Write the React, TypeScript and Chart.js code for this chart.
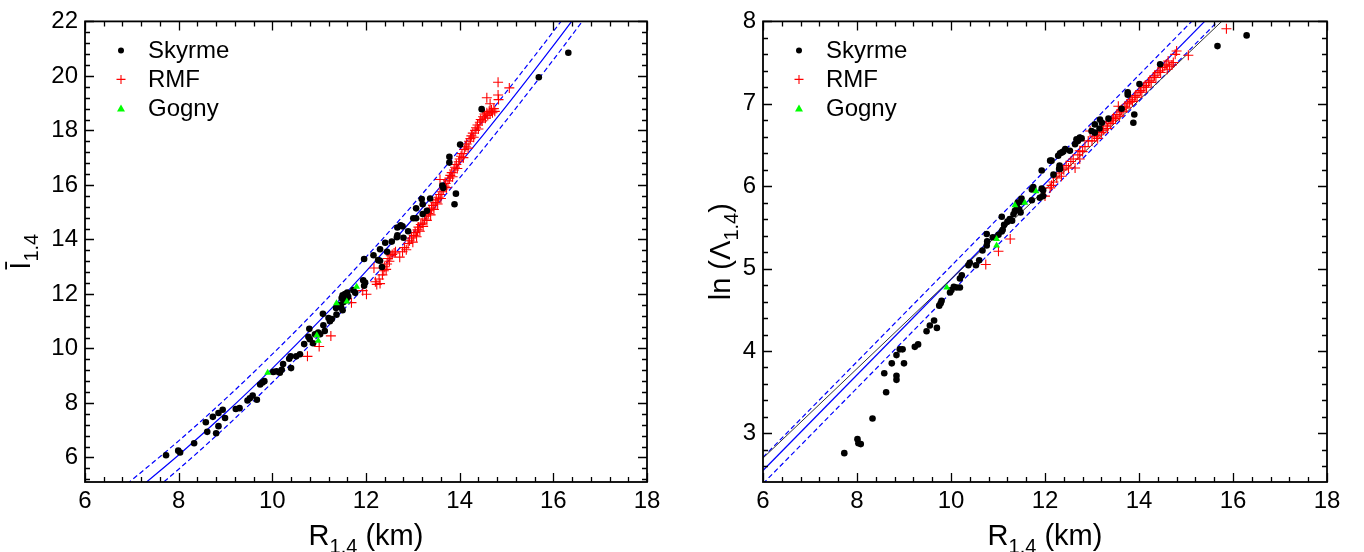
import React, { useEffect, useRef } from "react";
import { Chart, registerables } from "chart.js";
Chart.register(...registerables);

const FONT = "'Liberation Sans', Arial, Helvetica, sans-serif";

// ---------- tick labels ----------
const leftXTicks = [6, 8, 10, 12, 14, 16, 18];
const leftYTicks = [6, 8, 10, 12, 14, 16, 18, 20, 22];
const rightXTicks = [6, 8, 10, 12, 14, 16, 18];
const rightYTicks = [3, 4, 5, 6, 7, 8];

// ---------- left panel: I(1.4) vs R(1.4) ----------
const skyrmeLeftR = [7.73, 7.99, 8.03, 8.33, 8.58, 8.61, 8.73, 8.8, 8.85, 8.85, 8.94, 8.99, 9.22, 9.3, 9.47, 9.52, 9.58, 9.67, 9.74, 9.79, 9.83, 10.02, 10.09, 10.16, 10.2, 10.23, 10.36, 10.39, 10.4, 10.51, 10.59, 10.68, 10.77, 10.79, 10.8, 10.87, 10.91, 10.98, 11.02, 11.08, 11.09, 11.12, 11.2, 11.23, 11.27, 11.36, 11.37, 11.45, 11.48, 11.5, 11.52, 11.55, 11.58, 11.6, 11.62, 11.5, 11.47, 11.73, 11.77, 11.94, 11.96, 11.98, 11.96, 12.16, 12.26, 12.34, 12.3, 12.3, 12.41, 12.45, 12.55, 12.67, 12.66, 12.8, 12.67, 12.74, 12.78, 12.9, 13.01, 13.07, 13.07, 13.21, 13.19, 13.21, 13.3, 13.37, 13.63, 13.65, 13.78, 13.78, 13.92, 13.89, 14.01, 14.47, 15.69, 16.32];
const skyrmeLeftI = [6.08, 6.25, 6.18, 6.52, 7.29, 6.94, 7.49, 6.89, 7.63, 7.15, 7.75, 7.45, 7.78, 7.81, 8.09, 8.17, 8.27, 8.12, 8.68, 8.75, 8.8, 9.14, 9.16, 9.11, 9.22, 9.43, 9.62, 9.71, 9.28, 9.71, 9.79, 10.16, 10.43, 10.72, 10.34, 10.19, 10.52, 10.58, 10.52, 11.27, 10.85, 10.64, 11.12, 11.0, 11.08, 11.48, 11.24, 11.6, 11.85, 11.95, 11.7, 12.0, 11.8, 12.05, 11.9, 11.4, 11.5, 12.14, 12.04, 12.5, 12.3, 12.42, 13.28, 13.42, 13.24, 12.99, 13.64, 13.22, 13.88, 13.55, 13.92, 14.15, 14.08, 14.06, 14.44, 14.52, 14.48, 14.3, 14.78, 14.78, 15.14, 14.93, 15.48, 15.29, 15.05, 15.5, 15.98, 15.89, 17.03, 16.82, 15.68, 15.29, 17.48, 18.78, 19.95, 20.85];

const rmfLeftR = [10.75, 11.0, 11.25, 11.69, 11.93, 12.01, 12.2, 12.23, 12.28, 12.3, 12.17, 12.35, 12.38, 12.4, 12.43, 12.45, 12.47, 12.5, 12.53, 12.56, 12.6, 12.63, 12.72, 12.78, 12.82, 12.86, 12.9, 12.93, 12.97, 13.0, 13.02, 13.05, 13.08, 13.1, 13.12, 13.15, 13.17, 13.2, 13.22, 13.25, 13.28, 13.3, 13.33, 13.35, 13.38, 13.4, 13.43, 13.45, 13.48, 13.5, 13.53, 13.55, 13.58, 13.6, 13.62, 13.65, 13.68, 13.7, 13.72, 13.75, 13.78, 13.8, 13.83, 13.85, 13.88, 13.9, 13.93, 13.95, 13.98, 14.0, 14.03, 14.05, 14.08, 14.1, 14.13, 14.15, 14.18, 14.2, 14.23, 14.25, 14.28, 14.3, 14.33, 14.35, 14.38, 14.4, 14.43, 14.45, 14.48, 14.5, 14.53, 14.55, 14.58, 14.6, 14.63, 14.65, 14.68, 14.7, 14.73, 14.75, 13.58, 14.58, 14.65, 14.83, 14.82, 14.82, 15.06];
const rmfLeftI = [9.71, 10.07, 10.46, 11.68, 12.12, 11.99, 12.45, 12.35, 12.55, 12.38, 12.95, 12.7, 12.85, 13.0, 12.9, 13.1, 13.3, 13.2, 13.4, 13.45, 13.5, 13.55, 13.35, 13.55, 13.7, 13.62, 13.85, 13.95, 14.05, 13.9, 14.15, 14.25, 14.1, 14.35, 14.45, 14.3, 14.55, 14.6, 14.48, 14.75, 14.85, 14.7, 14.95, 15.05, 14.9, 15.15, 15.25, 15.1, 15.35, 15.45, 15.3, 15.55, 15.65, 15.5, 15.75, 15.85, 15.95, 16.05, 15.9, 16.15, 16.25, 16.35, 16.45, 16.3, 16.55, 16.65, 16.75, 16.6, 16.85, 16.95, 17.05, 17.15, 17.0, 17.3, 17.4, 17.5, 17.35, 17.6, 17.7, 17.8, 17.9, 17.75, 18.0, 18.1, 18.2, 18.05, 18.3, 18.4, 18.35, 18.5, 18.6, 18.45, 18.65, 18.55, 18.7, 18.6, 18.75, 18.65, 18.8, 18.7, 16.2, 19.2, 18.98, 19.13, 19.3, 19.77, 19.56];

const gognyLeftR = [9.9, 10.95, 10.98, 11.37, 11.59, 11.8];
const gognyLeftI = [9.11, 10.48, 10.28, 11.66, 11.72, 12.26];

// fit curve and its band
const fitLeftR = [6.9, 8, 9, 10, 11, 12, 13, 14, 15, 16, 16.6];
const fitLeftI = [4.51, 6.09, 7.63, 9.27, 11.0, 12.83, 14.75, 16.78, 18.9, 21.11, 22.48];
const bandUpLeftI = [5.03, 6.61, 8.15, 9.79, 11.52, 13.35, 15.27, 17.3, 19.42, 21.63, 23.0];
const bandLoLeftI = [3.99, 5.57, 7.11, 8.75, 10.48, 12.31, 14.23, 16.26, 18.38, 20.59, 21.96];

// ---------- right panel: ln(Lambda 1.4) vs R(1.4) ----------
const skyrmeRightR = [7.73, 8.01, 8.03, 8.08, 8.33, 8.58, 8.62, 8.74, 8.84, 8.84, 8.84, 8.91, 8.97, 9.0, 9.23, 9.3, 9.48, 9.55, 9.64, 9.7, 9.75, 9.78, 9.8, 9.98, 10.01, 10.06, 10.12, 10.19, 10.19, 10.23, 10.37, 10.4, 10.53, 10.6, 10.67, 10.76, 10.77, 10.76, 10.89, 11.01, 11.08, 11.1, 11.13, 11.08, 11.2, 11.25, 11.3, 11.33, 11.36, 11.4, 11.42, 11.45, 11.48, 11.5, 11.5, 11.72, 11.75, 11.72, 11.93, 11.96, 11.96, 11.89, 11.93, 12.11, 12.14, 12.18, 12.28, 12.36, 12.43, 12.53, 12.31, 12.32, 12.3, 12.32, 12.39, 12.64, 12.67, 12.74, 12.7, 12.78, 12.99, 13.06, 13.06, 13.16, 13.17, 13.21, 13.35, 13.63, 13.76, 13.76, 13.88, 13.9, 14.01, 14.45, 15.67, 16.29];
const skyrmeRightL = [2.76, 2.93, 2.88, 2.87, 3.18, 3.73, 3.5, 3.85, 3.95, 3.7, 3.65, 4.02, 4.02, 3.85, 4.05, 4.08, 4.24, 4.31, 4.37, 4.28, 4.55, 4.58, 4.61, 4.71, 4.74, 4.78, 4.77, 4.77, 4.88, 4.92, 5.04, 5.07, 5.04, 5.1, 5.22, 5.28, 5.33, 5.42, 5.38, 5.41, 5.45, 5.47, 5.53, 5.63, 5.57, 5.6, 5.58, 5.66, 5.7, 5.75, 5.8, 5.72, 5.68, 5.85, 5.81, 5.83, 5.99, 5.96, 5.97, 5.95, 5.88, 5.86, 6.19, 6.31, 6.31, 6.14, 6.37, 6.41, 6.45, 6.43, 6.25, 6.21, 6.21, 6.4, 6.42, 6.51, 6.57, 6.59, 6.55, 6.58, 6.67, 6.65, 6.75, 6.7, 6.81, 6.77, 6.82, 6.94, 7.14, 7.11, 6.77, 6.87, 7.24, 7.48, 7.7, 7.83];

const rmfRightR = [10.74, 11.01, 11.26, 12.0, 12.11, 12.14, 12.18, 12.25, 12.3, 12.35, 12.4, 12.45, 12.5, 12.55, 12.6, 12.64, 12.7, 12.74, 12.74, 12.8, 12.85, 12.92, 12.96, 13.0, 13.05, 13.1, 13.12, 13.15, 13.2, 13.22, 13.25, 13.3, 13.33, 13.36, 13.4, 13.43, 13.46, 13.5, 13.53, 13.56, 13.58, 13.6, 13.63, 13.66, 13.7, 13.73, 13.76, 13.8, 13.83, 13.86, 13.9, 13.93, 13.96, 14.0, 14.03, 14.06, 14.1, 14.13, 14.16, 14.2, 14.23, 14.26, 14.3, 14.33, 14.36, 14.4, 14.43, 14.46, 14.5, 14.55, 14.58, 14.62, 14.6, 14.65, 14.7, 14.73, 14.77, 14.8, 15.05, 15.86];
const rmfRightL = [5.05, 5.21, 5.36, 5.88, 5.98, 6.01, 6.05, 6.1, 6.16, 6.12, 6.2, 6.25, 6.22, 6.3, 6.33, 6.22, 6.38, 6.33, 6.43, 6.42, 6.48, 6.55, 6.67, 6.55, 6.6, 6.62, 6.58, 6.66, 6.65, 6.7, 6.68, 6.73, 6.7, 6.78, 6.76, 6.8, 6.83, 6.82, 6.87, 6.97, 6.85, 6.9, 6.93, 6.91, 6.97, 6.95, 7.0, 7.02, 7.05, 7.03, 7.08, 7.1, 7.08, 7.14, 7.16, 7.14, 7.2, 7.22, 7.2, 7.26, 7.28, 7.26, 7.32, 7.34, 7.32, 7.38, 7.4, 7.38, 7.44, 7.46, 7.48, 7.52, 7.42, 7.45, 7.47, 7.5, 7.6, 7.64, 7.59, 7.91];

const gognyRightR = [9.91, 10.97, 10.97, 11.36, 11.57, 11.81];
const gognyRightL = [4.77, 5.36, 5.28, 5.77, 5.8, 5.94];

const fitRightR = [6, 16];
const fitRightL = [2.55, 8.35];
const bandUpRightL = [2.71, 8.51];
const bandLoRightL = [2.39, 8.19];
const blackRightR = [6, 16];
const blackRightL = [2.7, 8.13];

// ---------- helpers ----------
const pairs = (xs: number[], ys: number[]) => xs.map((x, i) => ({ x, y: ys[i] }));

const skyrmeDs = (xs: number[], ys: number[]) => ({
  label: "Skyrme",
  data: pairs(xs, ys),
  pointStyle: "circle",
  pointRadius: 3.3,
  backgroundColor: "#000",
  borderColor: "#000",
  borderWidth: 0,
  order: 1,
});
const rmfDs = (xs: number[], ys: number[]) => ({
  label: "RMF",
  data: pairs(xs, ys),
  pointStyle: "cross",
  pointRadius: 5,
  backgroundColor: "#ff0000",
  borderColor: "#ff0000",
  borderWidth: 1.1,
  order: 2,
});
const gognyDs = (xs: number[], ys: number[]) => ({
  label: "Gogny",
  data: pairs(xs, ys),
  pointStyle: "triangle",
  pointRadius: 4,
  backgroundColor: "#00ff00",
  borderColor: "#00ff00",
  borderWidth: 0,
  order: 0,
});
const lineDs = (label: string, xs: number[], ys: number[], color: string, dash: number[], width = 1.2) => ({
  label,
  data: pairs(xs, ys),
  showLine: true,
  pointRadius: 0,
  pointHoverRadius: 0,
  borderColor: color,
  backgroundColor: color,
  borderWidth: width,
  borderDash: dash,
  cubicInterpolationMode: "monotone",
  fill: false,
  clip: 0,
  order: 3,
  isFit: true,
});

// frame + inward ticks on all four sides
const framePlugin = {
  id: "frameTicks",
  afterDraw(chart: any, _a: any, opts: any) {
    const { ctx, chartArea: a } = chart;
    const xs = chart.scales.x;
    const ys = chart.scales.y;
    ctx.save();
    ctx.strokeStyle = "#000";
    ctx.lineWidth = 1.3;
    ctx.beginPath();
    const near = (v: number, arr: number[]) => arr.some((m) => Math.abs(m - v) < 1e-6);
    const xTick = (v: number, len: number) => {
      const p = Math.round(xs.getPixelForValue(v)) + 0.5;
      ctx.moveTo(p, a.bottom);
      ctx.lineTo(p, a.bottom - len);
      ctx.moveTo(p, a.top);
      ctx.lineTo(p, a.top + len);
    };
    const yTick = (v: number, len: number) => {
      const p = Math.round(ys.getPixelForValue(v)) + 0.5;
      ctx.moveTo(a.left, p);
      ctx.lineTo(a.left + len, p);
      ctx.moveTo(a.right, p);
      ctx.lineTo(a.right - len, p);
    };
    opts.xMajor.forEach((v: number) => xTick(v, 9));
    opts.yMajor.forEach((v: number) => yTick(v, 9));
    for (let i = Math.ceil(xs.min / opts.xMinor - 1e-9); i * opts.xMinor <= xs.max + 1e-9; i++) {
      const v = +(i * opts.xMinor).toFixed(6);
      if (!near(v, opts.xMajor)) xTick(v, 5);
    }
    for (let i = Math.ceil(ys.min / opts.yMinor - 1e-9); i * opts.yMinor <= ys.max + 1e-9; i++) {
      const v = +(i * opts.yMinor).toFixed(6);
      if (!near(v, opts.yMajor) && v > ys.min + 0.05) yTick(v, 5);
    }
    ctx.stroke();
    ctx.lineWidth = 1.8;
    ctx.strokeRect(a.left, a.top, a.right - a.left, a.bottom - a.top);
    ctx.restore();
  },
};

type Part = { t: string; sub?: boolean };
const drawRich = (ctx: any, parts: Part[], size: number, subSize: number, subShift: number, x: number, y: number) => {
  let w = 0;
  parts.forEach((p) => {
    ctx.font = `${p.sub ? subSize : size}px ${FONT}`;
    w += ctx.measureText(p.t).width;
  });
  let cx = x - w / 2;
  parts.forEach((p) => {
    ctx.font = `${p.sub ? subSize : size}px ${FONT}`;
    ctx.fillText(p.t, cx, y + (p.sub ? subShift : 0));
    cx += ctx.measureText(p.t).width;
  });
};

// axis titles with subscripts
const titlePlugin = {
  id: "richTitles",
  afterDraw(chart: any, _a: any, opts: any) {
    const { ctx, chartArea: a } = chart;
    ctx.save();
    ctx.fillStyle = "#000";
    ctx.textBaseline = "alphabetic";
    ctx.textAlign = "left";
    drawRich(ctx, opts.xTitle, 29, 20, 8, (a.left + a.right) / 2, opts.xTitleY);
    ctx.translate(opts.yTitleX, (a.top + a.bottom) / 2);
    ctx.rotate(-Math.PI / 2);
    drawRich(ctx, opts.yTitle, 29, 20, 8, 0, 0);
    ctx.restore();
  },
};

// legend drawn inside the plot area
const legendPlugin = {
  id: "insideLegend",
  afterDraw(chart: any, _a: any, opts: any) {
    const { ctx, chartArea: a } = chart;
    ctx.save();
    let row = 0;
    chart.data.datasets.forEach((ds: any) => {
      if (ds.isFit) return;
      const mx = a.left + opts.markerDx;
      const my = a.top + opts.firstRow + row * opts.rowGap;
      ctx.fillStyle = ds.backgroundColor;
      ctx.strokeStyle = ds.borderColor;
      if (ds.pointStyle === "circle") {
        ctx.beginPath();
        ctx.arc(mx, my, 3, 0, Math.PI * 2);
        ctx.fill();
      } else if (ds.pointStyle === "cross") {
        ctx.lineWidth = 1.1;
        ctx.beginPath();
        ctx.moveTo(mx - 4.5, my);
        ctx.lineTo(mx + 4.5, my);
        ctx.moveTo(mx, my - 4.5);
        ctx.lineTo(mx, my + 4.5);
        ctx.stroke();
      } else {
        ctx.beginPath();
        ctx.moveTo(mx, my - 4);
        ctx.lineTo(mx + 4, my + 3);
        ctx.lineTo(mx - 4, my + 3);
        ctx.closePath();
        ctx.fill();
      }
      ctx.fillStyle = "#000";
      ctx.font = `24px ${FONT}`;
      ctx.textBaseline = "middle";
      ctx.textAlign = "left";
      ctx.fillText(ds.label, a.left + opts.textDx, my + 1);
      row++;
    });
    ctx.restore();
  },
};

const makeConfig = (p: any) => ({
  type: "scatter",
  data: { datasets: p.datasets },
  plugins: [framePlugin, titlePlugin, legendPlugin],
  options: {
    animation: false,
    responsive: false,
    maintainAspectRatio: false,
    devicePixelRatio: 1,
    layout: { padding: { top: 13, right: p.padRight, left: 0, bottom: 0 } },
    events: [],
    plugins: {
      legend: { display: false },
      tooltip: { enabled: false },
      frameTicks: { xMajor: p.xTicks, yMajor: p.yTicks, xMinor: p.xMinor, yMinor: p.yMinor },
      richTitles: { xTitle: p.xTitle, yTitle: p.yTitle, xTitleY: 545, yTitleX: p.yTitleX },
      insideLegend: { markerDx: 36, textDx: 63, firstRow: 29, rowGap: 29 },
    },
    scales: {
      x: {
        type: "linear",
        min: p.xMin,
        max: p.xMax,
        afterBuildTicks: (s: any) => {
          s.ticks = p.xTicks.map((v: number) => ({ value: v }));
        },
        afterFit: (s: any) => {
          s.height = 70;
        },
        grid: { display: false, drawTicks: false },
        border: { display: false },
        ticks: { color: "#000", font: { family: FONT, size: 24 }, padding: 5, maxRotation: 0, autoSkip: false },
      },
      y: {
        type: "linear",
        min: p.yMin,
        max: p.yMax,
        afterBuildTicks: (s: any) => {
          s.ticks = p.yTicks.map((v: number) => ({ value: v }));
        },
        afterFit: (s: any) => {
          s.width = p.yWidth;
        },
        grid: { display: false, drawTicks: false },
        border: { display: false },
        ticks: { color: "#000", font: { family: FONT, size: 24 }, padding: 7, autoSkip: false },
      },
    },
  },
});

export default function App() {
  const leftRef = useRef<HTMLCanvasElement>(null);
  const rightRef = useRef<HTMLCanvasElement>(null);

  useEffect(() => {
    const left = new Chart(
      leftRef.current as HTMLCanvasElement,
      makeConfig({
        datasets: [
          skyrmeDs(skyrmeLeftR, skyrmeLeftI),
          rmfDs(rmfLeftR, rmfLeftI),
          gognyDs(gognyLeftR, gognyLeftI),
          lineDs("fit", fitLeftR, fitLeftI, "#0000ff", []),
          lineDs("upper", fitLeftR, bandUpLeftI, "#0000ff", [5, 3]),
          lineDs("lower", fitLeftR, bandLoLeftI, "#0000ff", [5, 3]),
        ],
        padRight: 35,
        yWidth: 85,
        xMin: 6,
        xMax: 18,
        yMin: 5.1,
        yMax: 22,
        xTicks: leftXTicks,
        yTicks: leftYTicks,
        xMinor: 0.4,
        yMinor: 0.4,
        xTitle: [{ t: "R" }, { t: "1.4", sub: true }, { t: " (km)" }],
        yTitle: [{ t: "\u012A" }, { t: "1.4", sub: true }],
        yTitleX: 30,
      }) as any
    );
    const right = new Chart(
      rightRef.current as HTMLCanvasElement,
      makeConfig({
        datasets: [
          skyrmeDs(skyrmeRightR, skyrmeRightL),
          rmfDs(rmfRightR, rmfRightL),
          gognyDs(gognyRightR, gognyRightL),
          lineDs("black", blackRightR, blackRightL, "#333333", [], 1),
          lineDs("fit", fitRightR, fitRightL, "#0000ff", []),
          lineDs("upper", fitRightR, bandUpRightL, "#0000ff", [5, 3]),
          lineDs("lower", fitRightR, bandLoRightL, "#0000ff", [5, 3]),
        ],
        padRight: 37,
        yWidth: 81,
        xMin: 6,
        xMax: 18,
        yMin: 2.41,
        yMax: 8,
        xTicks: rightXTicks,
        yTicks: rightYTicks,
        xMinor: 0.4,
        yMinor: 0.2,
        xTitle: [{ t: "R" }, { t: "1.4", sub: true }, { t: " (km)" }],
        yTitle: [{ t: "ln (\u039B" }, { t: "1.4", sub: true }, { t: ")" }],
        yTitleX: 48,
      }) as any
    );
    return () => {
      left.destroy();
      right.destroy();
    };
  }, []);

  return (
    <div style={{ position: "absolute", left: 0, top: 0, width: 1364, height: 552, background: "#fff" }}>
      <canvas ref={leftRef} width={682} height={552} style={{ position: "absolute", left: 0, top: 0 }} />
      <canvas ref={rightRef} width={682} height={552} style={{ position: "absolute", left: 682, top: 0 }} />
    </div>
  );
}
